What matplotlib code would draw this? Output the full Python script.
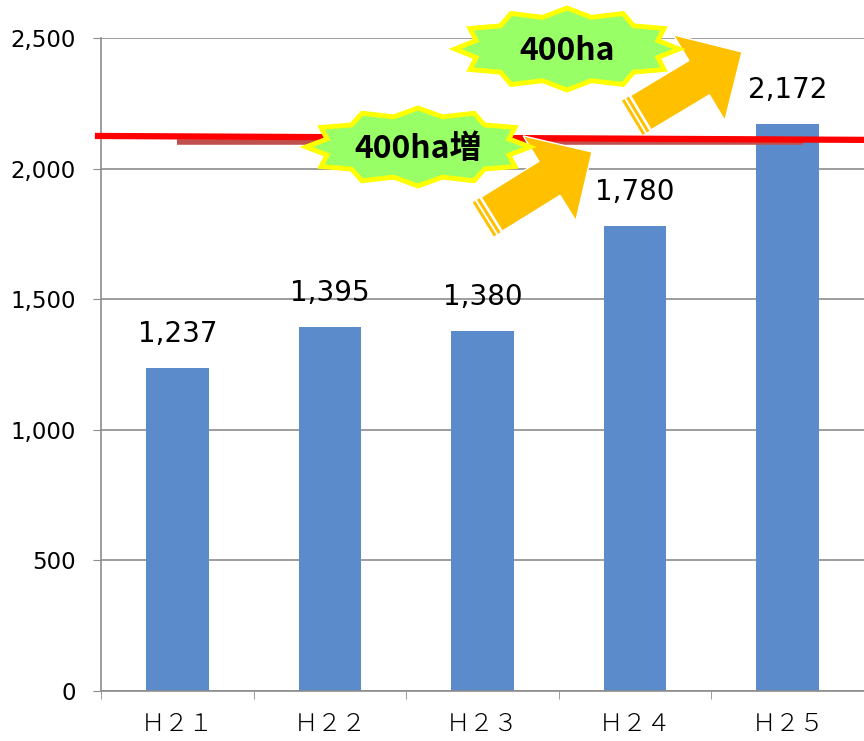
import numpy as np
import matplotlib
matplotlib.use("Agg")
import matplotlib.pyplot as plt
from matplotlib.patches import Polygon

plt.rcParams['font.family'] = ['Noto Sans CJK JP', 'DejaVu Sans']

# data
years = ["Ｈ２１", "Ｈ２２", "Ｈ２３", "Ｈ２４", "Ｈ２５"]
area = [1237, 1395, 1380, 1780, 2172]
yticks = [0, 500, 1000, 1500, 2000, 2500]

# reference lines drawn over the chart (value at left end, value at right end)
red_line = [2125, 2110]
dark_line = [2102, 2102]

fig = plt.figure(figsize=(8.64, 7.41), dpi=100)
ax = fig.add_axes([101 / 864, 50 / 741, 763 / 864, 653 / 741])

x = np.arange(len(years))
ax.bar(x, area, width=0.41, color='#5B8BCA', zorder=2)
for xi, v in zip(x, area):
    ax.text(xi, v + 75, f"{v:,}", ha='center', va='bottom', fontsize=20,
            family=['DejaVu Sans'])

ax.set_xlim(-0.5, 4.5)
ax.set_ylim(0, 2500)
ax.set_yticks(yticks)
ax.set_yticklabels([f"{t:,}" for t in yticks], fontsize=16.5, family=['DejaVu Sans'])
ax.yaxis.grid(True, color='#8C8C8C', lw=1.2, zorder=0)
ax.set_xticks(x)
ax.set_xticklabels(years, fontsize=17.5, fontweight='light')
ax.set_xticks(np.arange(-0.5, 5, 1), minor=True)
ax.tick_params(axis='x', which='major', length=0, pad=15)
ax.tick_params(axis='x', which='minor', length=6, color='#8C8C8C', direction='out')
ax.tick_params(axis='y', length=6, color='#8C8C8C', pad=12)
for s in ['top', 'right']:
    ax.spines[s].set_visible(False)
for s in ['left', 'bottom']:
    ax.spines[s].set_color('#8C8C8C')
    ax.spines[s].set_linewidth(1.2)

ax.plot([0, 4.1], dark_line, color='#C0504D', lw=4, zorder=3, solid_capstyle='butt')
ax.plot([-0.54, 4.5], red_line, color='#FF0000', lw=4.5, zorder=4,
        clip_on=False, solid_capstyle='butt')

# overlay in pixel coordinates for stars and arrows
ov = fig.add_axes([0, 0, 1, 1], zorder=5)
ov.set_xlim(0, 864)
ov.set_ylim(741, 0)
ov.axis('off')


def star(cx, cy, rx, ry, label):
    n = 12
    pts = []
    for i in range(2 * n):
        a = np.pi * i / n
        if i % 2 == 0:
            pts.append((cx + rx * np.cos(a), cy + ry * np.sin(a)))
        else:
            pts.append((cx + rx * 0.84 * np.cos(a), cy + ry * 0.8 * np.sin(a)))
    ov.add_patch(Polygon(pts, closed=True, facecolor='#99FF66',
                         edgecolor='#FFFF00', lw=3.5, joinstyle='miter'))
    ov.text(cx, cy + 2, label, ha='center', va='center', fontsize=23,
            fontweight='bold', color='black')


def arrow(tx, ty, ang, length, bw, hw, hl):
    d = np.array([np.cos(ang), np.sin(ang)])
    p = np.array([-d[1], d[0]])
    tip = np.array([tx, ty])
    base = tip - d * length

    def pt(u, v):
        return base + d * u + p * v

    body = [pt(10, -bw / 2), pt(length - hl, -bw / 2), pt(length - hl, -hw / 2),
            pt(length, 0), pt(length - hl, hw / 2), pt(length - hl, bw / 2),
            pt(10, bw / 2)]
    ov.add_patch(Polygon(body, closed=True, facecolor='#FFC000', edgecolor='white', lw=1))
    for u0 in (0, 5):
        strip = [pt(u0, -bw / 2), pt(u0 + 3, -bw / 2), pt(u0 + 3, bw / 2), pt(u0, bw / 2)]
        ov.add_patch(Polygon(strip, closed=True, facecolor='#FFC000', edgecolor='none'))


arrow(592, 152, np.arctan2(-62, 100), 128, 40, 100, 50)
arrow(742, 52, np.arctan2(-60, 100), 128, 40, 100, 50)
star(418, 147, 112, 39, "400ha増")
star(567, 49, 112, 41, "400ha")

fig.savefig("out.png", dpi=100)
